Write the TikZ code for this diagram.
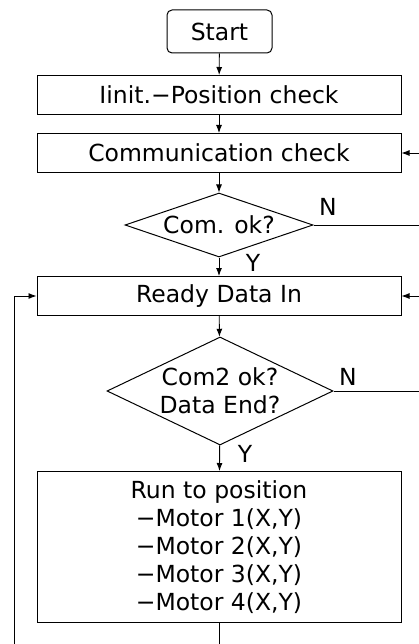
\documentclass[tikz,border=0pt]{standalone}
\usepackage{fontspec}
\setmainfont{DejaVu Sans}
\usetikzlibrary{shapes.geometric,arrows.meta}
\tikzset{
  box/.style={draw,line width=1pt,minimum width=364pt,minimum height=39pt,inner sep=0pt},
  decide/.style={draw,diamond,line width=1pt,inner sep=0pt,align=center},
  flow/.style={line width=0.9pt,-{Latex[length=8pt,width=6pt]}},
  wire/.style={line width=0.9pt}
}
\begin{document}
\begin{tikzpicture}[x=1pt,y=-1pt,font=\fontsize{23.5}{28}\selectfont]
\useasboundingbox (0,0) rectangle (419,644);
\node[draw,line width=1pt,rounded corners=5pt,minimum width=105pt,minimum height=43pt,inner sep=0pt] (start) at (219.5,31.5) {Start};
\node[box] (init) at (219,95) {Iinit.−Position check};
\node[box] (comm) at (219,153) {Communication check};
\node[decide,aspect=2.94,minimum width=188pt,minimum height=64pt] (comok) at (219,225) {Com. ok?};
\node[box] (ready) at (219,296) {Ready Data In};
\node[decide,aspect=2.09,minimum width=226pt,minimum height=108pt] (dataok) at (220,391) {Com2 ok?\\Data End?};
\node[box,minimum height=151pt,align=center] (run) at (219,547) {Run to position\\−Motor 1(X,Y)\\−Motor 2(X,Y)\\−Motor 3(X,Y)\\−Motor 4(X,Y)};
\node (n1) at (328,207) {N};
\node (y1) at (253,263) {Y};
\node (n2) at (348,377) {N};
\node (y2) at (245,454) {Y};
\coordinate (commin) at (419,153);
\coordinate (comno) at (419,225);
\coordinate (readyin) at (419,296);
\coordinate (datano) at (419,391);
\coordinate (runout) at (219,644);
\coordinate (loopin) at (14,644);
\draw[flow] (start) -- (init);
\draw[flow] (init) -- (comm);
\draw[flow] (comm) -- (comok);
\draw[flow] (comok) -- (ready);
\draw[flow] (ready) -- (dataok);
\draw[flow] (dataok) -- (run);
\draw[flow] (commin) -- (comm);
\draw[wire] (comok.east) -- (comno);
\draw[flow] (readyin) -- (ready);
\draw[wire] (dataok.east) -- (datano);
\draw[wire] (run) -- (runout);
\draw[flow] (loopin) |- (ready);
\end{tikzpicture}
\end{document}
